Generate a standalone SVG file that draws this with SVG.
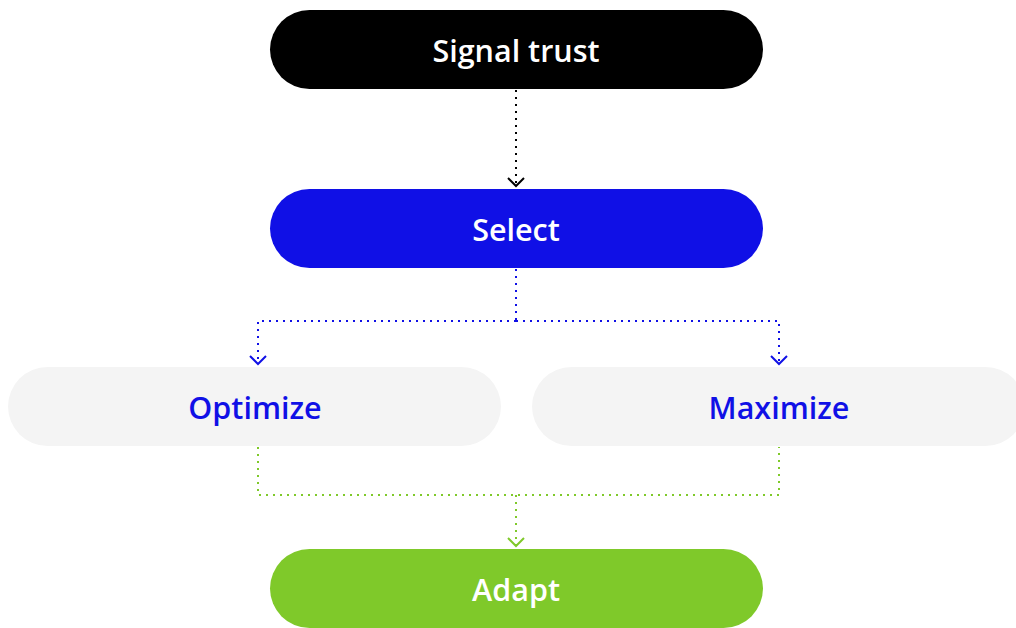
<svg xmlns="http://www.w3.org/2000/svg" width="1016" height="628" viewBox="0 0 1016 628">
<style>
.lbl{font-family:"Open Sans",Lato,sans-serif;font-weight:600;font-size:30.5px;text-anchor:middle;dominant-baseline:central}
.w{fill:#ffffff}
.b{fill:#1010e6}
.dot{fill:none;stroke-width:2;stroke-dasharray:2 5}
.head{fill:none;stroke-width:2}
</style>
<rect width="1016" height="628" fill="#ffffff"/>
<g id="connectors">
<path class="dot" stroke="#000" d="M516 90V186"/>
<path class="head" stroke="#000" d="M508 178L516 186L524 178"/>
<path class="dot" stroke="#1010e6" d="M516 269V321M516 321H258V364M516 321H779V364"/>
<path class="head" stroke="#1010e6" d="M250 356L258 364L266 356M771 356L779 364L787 356"/>
<path class="dot" stroke="#7fc92a" d="M258 447V495H779V447M516 495V546"/>
<path class="head" stroke="#7fc92a" d="M508 538L516 546L524 538"/>
</g>
<g id="signal-trust">
<rect x="270" y="10" width="493" height="79" rx="39.5" fill="#000"/>
<text class="lbl w" x="516" y="50">Signal trust</text>
</g>
<g id="select">
<rect x="270" y="189" width="493" height="79" rx="39.5" fill="#1010e6"/>
<text class="lbl w" x="516" y="229">Select</text>
</g>
<g id="optimize">
<rect x="8" y="367" width="493" height="79" rx="39.5" fill="#f4f4f4"/>
<text class="lbl b" x="255" y="407">Optimize</text>
</g>
<g id="maximize">
<rect x="532" y="367" width="493" height="79" rx="39.5" fill="#f4f4f4"/>
<text class="lbl b" x="779" y="407">Maximize</text>
</g>
<g id="adapt">
<rect x="270" y="549" width="493" height="79" rx="39.5" fill="#7fc92a"/>
<text class="lbl w" x="516" y="589">Adapt</text>
</g>
</svg>
